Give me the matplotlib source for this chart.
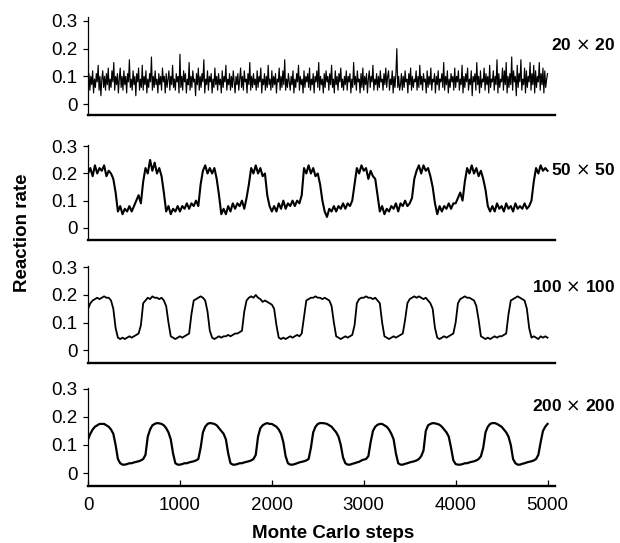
import numpy as np
import matplotlib
matplotlib.use("Agg")
import matplotlib.pyplot as plt

plt.rcParams['font.family'] = ['Liberation Sans', 'DejaVu Sans']

# sample spacing of the traces (Monte Carlo steps)
STEP_20 = 10
STEP = 25

# reaction rate; 20x20 every 10 steps, the rest every 25 steps (0..5000)
rate_20 = [
    0.08, 0.11, 0.05, 0.10, 0.07, 0.12, 0.04, 0.09, 0.06, 0.11, 0.08, 0.14, 0.05, 0.10, 0.03, 0.09, 0.12, 0.06, 0.10, 0.05,
    0.11, 0.07, 0.13, 0.05, 0.09, 0.06, 0.12, 0.08, 0.15, 0.05, 0.10, 0.07, 0.11, 0.04, 0.09, 0.13, 0.06, 0.10, 0.05, 0.12,
    0.07, 0.10, 0.04, 0.11, 0.08, 0.16, 0.06, 0.09, 0.05, 0.12, 0.07, 0.10, 0.03, 0.11, 0.08, 0.13, 0.05, 0.09, 0.06, 0.14,
    0.05, 0.10, 0.07, 0.12, 0.04, 0.09, 0.06, 0.11, 0.08, 0.17, 0.05, 0.10, 0.06, 0.12, 0.07, 0.09, 0.04, 0.11, 0.07, 0.10,
    0.05, 0.13, 0.08, 0.10, 0.04, 0.11, 0.06, 0.09, 0.12, 0.05, 0.10, 0.07, 0.14, 0.06, 0.09, 0.05, 0.11, 0.08, 0.10, 0.04,
    0.18, 0.06, 0.10, 0.05, 0.12, 0.08, 0.11, 0.04, 0.09, 0.07, 0.15, 0.05, 0.10, 0.06, 0.12, 0.08, 0.09, 0.03, 0.11, 0.07,
    0.13, 0.05, 0.10, 0.06, 0.11, 0.08, 0.16, 0.04, 0.09, 0.07, 0.12, 0.05, 0.10, 0.08, 0.11, 0.04, 0.09, 0.06, 0.13, 0.07,
    0.10, 0.05, 0.11, 0.07, 0.09, 0.04, 0.12, 0.06, 0.10, 0.08, 0.14, 0.05, 0.09, 0.07, 0.11, 0.05, 0.10, 0.06, 0.12, 0.08,
    0.04, 0.10, 0.07, 0.11, 0.05, 0.09, 0.13, 0.06, 0.10, 0.05, 0.12, 0.08, 0.09, 0.04, 0.11, 0.07, 0.15, 0.05, 0.10, 0.06,
    0.11, 0.07, 0.09, 0.05, 0.12, 0.06, 0.10, 0.08, 0.13, 0.04, 0.09, 0.07, 0.11, 0.05, 0.10, 0.06, 0.14, 0.07, 0.09, 0.05,
    0.12, 0.06, 0.10, 0.07, 0.11, 0.04, 0.09, 0.08, 0.13, 0.05, 0.10, 0.06, 0.12, 0.07, 0.16, 0.05, 0.09, 0.06, 0.11, 0.08,
    0.05, 0.10, 0.07, 0.12, 0.04, 0.09, 0.06, 0.11, 0.08, 0.14, 0.05, 0.10, 0.07, 0.09, 0.04, 0.12, 0.06, 0.10, 0.08, 0.11,
    0.06, 0.13, 0.05, 0.09, 0.07, 0.11, 0.04, 0.10, 0.08, 0.12, 0.06, 0.15, 0.05, 0.10, 0.07, 0.09, 0.04, 0.11, 0.06, 0.12,
    0.08, 0.10, 0.05, 0.11, 0.07, 0.14, 0.06, 0.09, 0.04, 0.12, 0.07, 0.10, 0.05, 0.11, 0.08, 0.13, 0.06, 0.09, 0.05, 0.10,
    0.07, 0.12, 0.05, 0.10, 0.08, 0.11, 0.04, 0.09, 0.06, 0.15, 0.07, 0.10, 0.05, 0.12, 0.08, 0.09, 0.04, 0.11, 0.06, 0.13,
    0.05, 0.10, 0.07, 0.11, 0.04, 0.09, 0.12, 0.06, 0.10, 0.08, 0.14, 0.05, 0.09, 0.07, 0.11, 0.05, 0.10, 0.06, 0.12, 0.08,
    0.09, 0.05, 0.11, 0.07, 0.13, 0.06, 0.10, 0.12, 0.05, 0.09, 0.07, 0.12, 0.04, 0.10, 0.06, 0.11, 0.20, 0.06, 0.10, 0.05,
    0.07, 0.11, 0.05, 0.10, 0.06, 0.12, 0.08, 0.09, 0.04, 0.11, 0.07, 0.13, 0.05, 0.10, 0.06, 0.09, 0.08, 0.12, 0.05, 0.10,
    0.06, 0.14, 0.07, 0.10, 0.05, 0.11, 0.08, 0.09, 0.04, 0.12, 0.06, 0.10, 0.07, 0.13, 0.05, 0.09, 0.08, 0.11, 0.04, 0.10,
    0.07, 0.12, 0.05, 0.09, 0.08, 0.11, 0.06, 0.15, 0.05, 0.10, 0.07, 0.12, 0.04, 0.09, 0.06, 0.11, 0.08, 0.10, 0.05, 0.13,
    0.06, 0.10, 0.08, 0.12, 0.05, 0.09, 0.07, 0.14, 0.04, 0.10, 0.06, 0.11, 0.08, 0.13, 0.05, 0.09, 0.07, 0.12, 0.03, 0.10,
    0.08, 0.11, 0.05, 0.15, 0.07, 0.10, 0.04, 0.12, 0.06, 0.09, 0.08, 0.13, 0.05, 0.11, 0.07, 0.10, 0.04, 0.14, 0.06, 0.09,
    0.08, 0.12, 0.05, 0.10, 0.07, 0.16, 0.04, 0.11, 0.06, 0.09, 0.08, 0.13, 0.05, 0.12, 0.07, 0.15, 0.04, 0.10, 0.06, 0.11,
    0.07, 0.17, 0.05, 0.12, 0.08, 0.10, 0.03, 0.14, 0.06, 0.11, 0.08, 0.16, 0.05, 0.09, 0.07, 0.13, 0.04, 0.12, 0.06, 0.10,
    0.08, 0.15, 0.05, 0.11, 0.07, 0.14, 0.04, 0.12, 0.06, 0.10, 0.08, 0.15, 0.05, 0.11, 0.07, 0.13, 0.04, 0.12, 0.06, 0.09,
    0.11,
]

rate_50 = [
    0.20, 0.22, 0.19, 0.23, 0.20, 0.22, 0.21, 0.23, 0.19, 0.21, 0.20, 0.18, 0.13, 0.06, 0.08, 0.05, 0.07, 0.06, 0.08, 0.06,
    0.08, 0.10, 0.12, 0.09, 0.17, 0.22, 0.20, 0.25, 0.21, 0.24, 0.20, 0.22, 0.19, 0.13, 0.06, 0.08, 0.05, 0.07, 0.06, 0.08,
    0.06, 0.08, 0.07, 0.09, 0.07, 0.09, 0.08, 0.10, 0.08, 0.16, 0.21, 0.23, 0.20, 0.22, 0.20, 0.22, 0.18, 0.12, 0.05, 0.07,
    0.05, 0.08, 0.06, 0.09, 0.07, 0.09, 0.08, 0.10, 0.07, 0.11, 0.16, 0.22, 0.20, 0.23, 0.20, 0.22, 0.19, 0.20, 0.12, 0.08,
    0.06, 0.08, 0.06, 0.09, 0.07, 0.10, 0.07, 0.09, 0.08, 0.10, 0.08, 0.10, 0.09, 0.12, 0.22, 0.20, 0.23, 0.20, 0.22, 0.19,
    0.20, 0.16, 0.10, 0.06, 0.04, 0.07, 0.06, 0.08, 0.06, 0.08, 0.07, 0.09, 0.07, 0.09, 0.08, 0.10, 0.16, 0.22, 0.20, 0.23,
    0.21, 0.22, 0.18, 0.21, 0.19, 0.18, 0.12, 0.06, 0.08, 0.05, 0.07, 0.06, 0.08, 0.07, 0.09, 0.06, 0.09, 0.08, 0.10, 0.08,
    0.09, 0.11, 0.18, 0.21, 0.23, 0.20, 0.23, 0.21, 0.22, 0.19, 0.15, 0.09, 0.05, 0.08, 0.06, 0.08, 0.07, 0.09, 0.07, 0.09,
    0.09, 0.11, 0.13, 0.10, 0.17, 0.22, 0.20, 0.23, 0.20, 0.22, 0.19, 0.21, 0.18, 0.14, 0.08, 0.06, 0.08, 0.06, 0.09, 0.07,
    0.08, 0.06, 0.09, 0.07, 0.08, 0.06, 0.09, 0.07, 0.08, 0.07, 0.09, 0.07, 0.08, 0.10, 0.17, 0.22, 0.20, 0.23, 0.21, 0.22,
    0.21,
]

rate_100 = [
    0.15, 0.17, 0.18, 0.185, 0.19, 0.185, 0.19, 0.195, 0.19, 0.19, 0.18, 0.15, 0.08, 0.045, 0.04, 0.045, 0.04, 0.045, 0.05, 0.045,
    0.05, 0.055, 0.06, 0.09, 0.17, 0.18, 0.19, 0.185, 0.195, 0.19, 0.19, 0.185, 0.19, 0.18, 0.16, 0.10, 0.05, 0.045, 0.04, 0.045,
    0.05, 0.045, 0.05, 0.055, 0.06, 0.13, 0.18, 0.185, 0.19, 0.195, 0.19, 0.18, 0.14, 0.07, 0.045, 0.04, 0.045, 0.05, 0.045, 0.05,
    0.05, 0.055, 0.05, 0.055, 0.06, 0.06, 0.065, 0.07, 0.14, 0.18, 0.19, 0.195, 0.19, 0.20, 0.19, 0.185, 0.175, 0.18, 0.175, 0.17,
    0.165, 0.15, 0.09, 0.045, 0.04, 0.045, 0.04, 0.045, 0.05, 0.045, 0.05, 0.055, 0.05, 0.06, 0.12, 0.18, 0.185, 0.19, 0.19, 0.195,
    0.19, 0.19, 0.185, 0.19, 0.185, 0.18, 0.16, 0.10, 0.05, 0.045, 0.04, 0.045, 0.05, 0.045, 0.05, 0.055, 0.09, 0.17, 0.185, 0.19,
    0.19, 0.195, 0.19, 0.19, 0.185, 0.19, 0.18, 0.17, 0.10, 0.05, 0.045, 0.04, 0.045, 0.05, 0.045, 0.05, 0.055, 0.06, 0.11, 0.17,
    0.185, 0.19, 0.195, 0.19, 0.195, 0.19, 0.185, 0.19, 0.18, 0.17, 0.15, 0.08, 0.045, 0.04, 0.045, 0.05, 0.045, 0.05, 0.055, 0.06,
    0.10, 0.17, 0.185, 0.19, 0.195, 0.19, 0.19, 0.185, 0.18, 0.16, 0.11, 0.05, 0.045, 0.04, 0.045, 0.04, 0.045, 0.05, 0.045, 0.05,
    0.05, 0.055, 0.06, 0.13, 0.18, 0.185, 0.19, 0.195, 0.19, 0.185, 0.18, 0.15, 0.08, 0.045, 0.05, 0.045, 0.04, 0.05, 0.045, 0.05,
    0.045,
]

rate_200 = [
    0.12, 0.14, 0.155, 0.165, 0.17, 0.175, 0.175, 0.175, 0.17, 0.165, 0.155, 0.14, 0.10, 0.05, 0.035, 0.03, 0.03, 0.032, 0.035, 0.035,
    0.038, 0.04, 0.042, 0.045, 0.05, 0.065, 0.13, 0.155, 0.17, 0.175, 0.178, 0.177, 0.175, 0.17, 0.16, 0.145, 0.12, 0.07, 0.035, 0.03,
    0.03, 0.032, 0.035, 0.035, 0.038, 0.04, 0.042, 0.045, 0.05, 0.09, 0.145, 0.165, 0.175, 0.178, 0.177, 0.175, 0.17, 0.16, 0.15, 0.14,
    0.12, 0.07, 0.035, 0.03, 0.03, 0.032, 0.035, 0.035, 0.038, 0.04, 0.042, 0.045, 0.05, 0.065, 0.13, 0.16, 0.17, 0.175, 0.178, 0.175,
    0.175, 0.17, 0.165, 0.155, 0.14, 0.11, 0.06, 0.035, 0.03, 0.03, 0.032, 0.035, 0.038, 0.04, 0.042, 0.045, 0.05, 0.09, 0.145, 0.165,
    0.175, 0.178, 0.178, 0.177, 0.175, 0.17, 0.165, 0.155, 0.145, 0.13, 0.10, 0.055, 0.035, 0.03, 0.03, 0.033, 0.035, 0.038, 0.04, 0.045,
    0.048, 0.05, 0.06, 0.11, 0.15, 0.165, 0.172, 0.175, 0.175, 0.17, 0.165, 0.155, 0.14, 0.12, 0.07, 0.035, 0.03, 0.03, 0.033, 0.035,
    0.038, 0.04, 0.042, 0.045, 0.05, 0.06, 0.08, 0.15, 0.17, 0.175, 0.178, 0.177, 0.175, 0.172, 0.165, 0.155, 0.145, 0.13, 0.09, 0.045,
    0.032, 0.03, 0.03, 0.032, 0.035, 0.035, 0.038, 0.04, 0.042, 0.045, 0.05, 0.06, 0.09, 0.145, 0.165, 0.175, 0.178, 0.178, 0.175, 0.17,
    0.165, 0.155, 0.145, 0.13, 0.10, 0.05, 0.035, 0.03, 0.03, 0.033, 0.035, 0.038, 0.04, 0.042, 0.045, 0.05, 0.065, 0.11, 0.15, 0.165,
    0.175,
]

series = [rate_20, rate_50, rate_100, rate_200]
spacing = [STEP_20, STEP, STEP, STEP]
labels = ["20 $\\times$ 20", "50 $\\times$ 50", "100 $\\times$ 100", "200 $\\times$ 200"]
y_ticks = [0, 0.1, 0.2, 0.3]
y_ticklabels = ["0", "0.1", "0.2", "0.3"]
x_ticks = [0, 1000, 2000, 3000, 4000, 5000]

fig = plt.figure(figsize=(6.2, 5.43), dpi=100)

# axes boxes in figure fractions, top panel first
boxes = [
    [0.142, 0.788, 0.753, 0.181],
    [0.142, 0.558, 0.753, 0.175],
    [0.142, 0.331, 0.753, 0.180],
    [0.142, 0.105, 0.753, 0.181],
]
ylims = [(-0.04, 0.315), (-0.045, 0.305), (-0.048, 0.307), (-0.046, 0.304)]
widths = [0.85, 1.5, 1.3, 1.6]
label_y = [0.917, 0.687, 0.471, 0.252]

for i, vals in enumerate(series):
    ax = fig.add_axes(boxes[i])
    steps = np.arange(len(vals)) * spacing[i]
    ax.plot(steps, vals, color="black", lw=widths[i])
    ax.set_xlim(0, 5080)
    ax.set_ylim(*ylims[i])
    ax.spines["top"].set_visible(False)
    ax.spines["right"].set_visible(False)
    ax.spines["left"].set_linewidth(0.9)
    ax.spines["bottom"].set_linewidth(1.7)
    ax.set_yticks(y_ticks)
    ax.set_yticklabels(y_ticklabels)
    ax.tick_params(axis="y", direction="out", length=3.6, width=0.9, pad=4, labelsize=13.5)
    if i < 3:
        ax.set_xticks([])
    else:
        ax.set_xticks(x_ticks)
        ax.tick_params(axis="x", direction="in", length=4.5, width=0.9, pad=8, labelsize=13.5)
    fig.text(0.992, label_y[i], labels[i], ha="right", va="center",
             fontsize=12.5, fontweight="bold")

fig.text(0.036, 0.571, "Reaction rate", rotation=90, ha="center", va="center",
         fontsize=13.5, fontweight="bold")
fig.text(0.537, 0.018, "Monte Carlo steps", ha="center", va="center",
         fontsize=13.5, fontweight="bold")

fig.savefig("out.png", dpi=100)
